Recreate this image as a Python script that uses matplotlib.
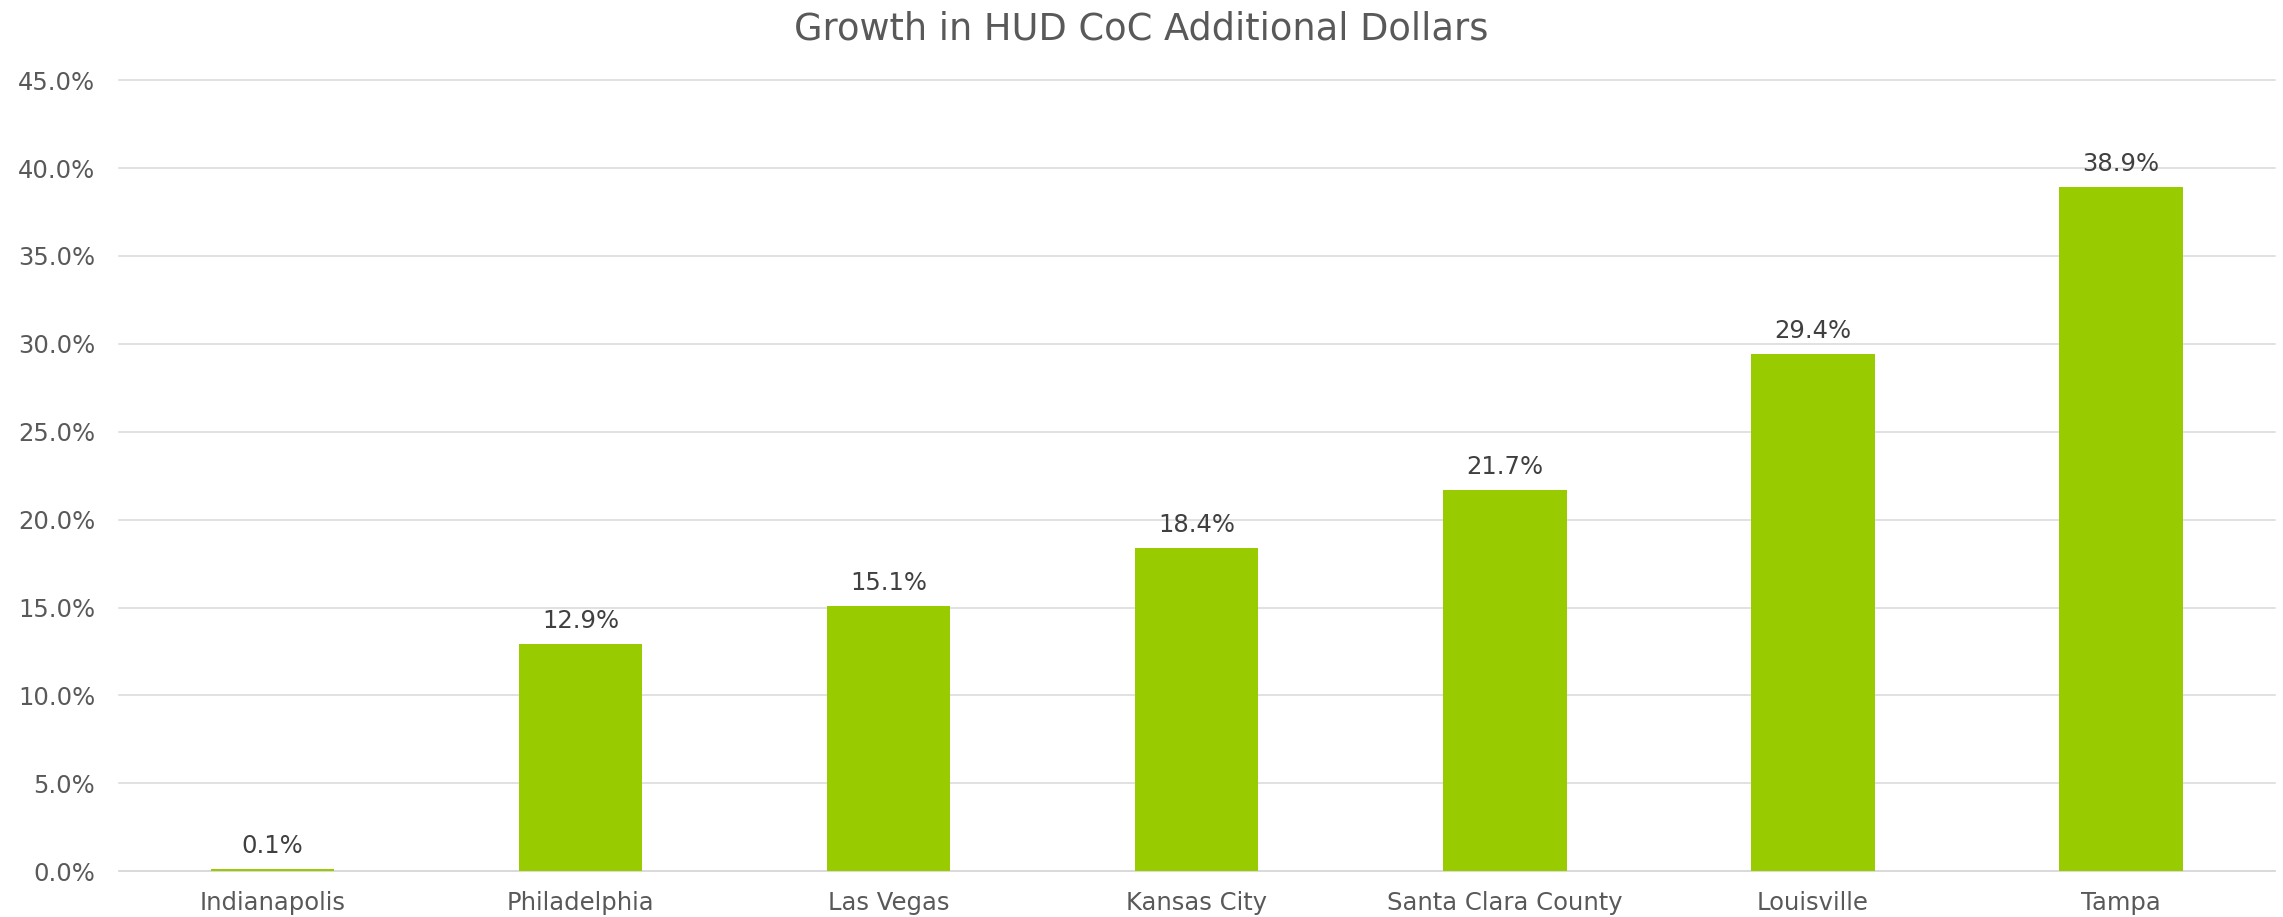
import numpy as np
import matplotlib.pyplot as plt
from matplotlib.ticker import FuncFormatter

cities = ['Indianapolis', 'Philadelphia', 'Las Vegas', 'Kansas City',
          'Santa Clara County', 'Louisville', 'Tampa']
growth = [0.1, 12.9, 15.1, 18.4, 21.7, 29.4, 38.9]
yticks = [0, 5, 10, 15, 20, 25, 30, 35, 40, 45]

plt.rcParams['font.family'] = ['DejaVu Sans']

fig = plt.figure(figsize=(22.83, 9.17), dpi=100)
ax = fig.add_axes([0.052, 0.050, 0.9445, 0.8625])

x = np.arange(len(cities))
bars = ax.bar(x, growth, width=0.4, color='#99cc00', zorder=3)

for xi, v in zip(x, growth):
    ax.annotate('%.1f%%' % v, (xi, v), xytext=(0, 11.5), textcoords='offset points',
                ha='center', va='baseline', fontsize=17.5, color='#404040')

ax.set_xlim(-0.5, len(cities) - 0.5)
ax.set_ylim(0, 45)
ax.set_yticks(yticks)
ax.yaxis.set_major_formatter(FuncFormatter(lambda v, p: '%.1f%%' % v))
ax.set_xticks(x)
ax.set_xticklabels(cities)
ax.tick_params(axis='both', length=0, labelsize=17.5, labelcolor='#595959')
ax.tick_params(axis='y', pad=17)
ax.tick_params(axis='x', pad=14)
ax.grid(axis='y', color='#d9d9d9', linewidth=1.1, zorder=0)
for gl in ax.get_ygridlines():
    gl.set_clip_on(False)
for s in ['top', 'right', 'left']:
    ax.spines[s].set_visible(False)
ax.spines['bottom'].set_color('#d9d9d9')
ax.spines['bottom'].set_linewidth(1.1)

fig.text(0.5, 0.968, 'Growth in HUD CoC Additional Dollars', ha='center', va='center',
         fontsize=26.5, color='#595959')

plt.savefig('out.png', dpi=100)
